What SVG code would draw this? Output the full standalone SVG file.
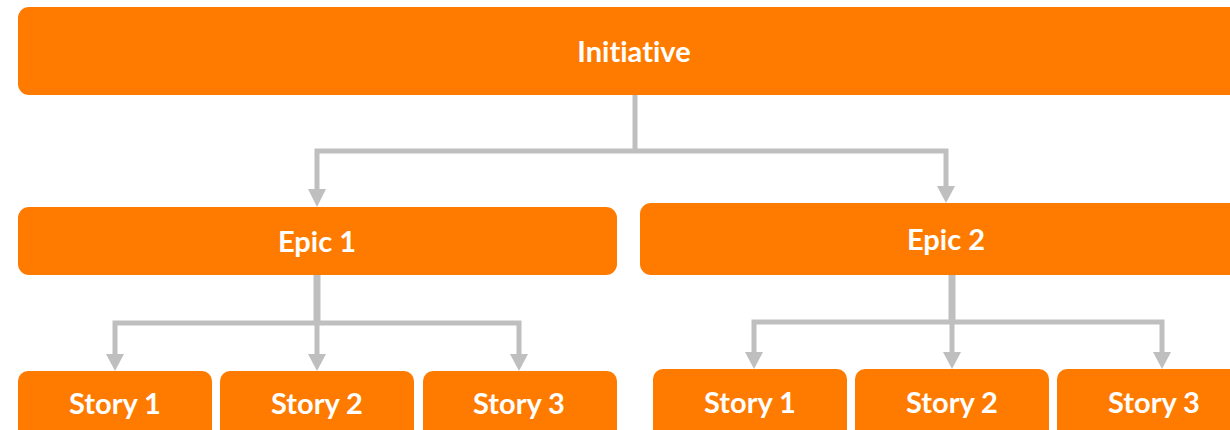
<svg xmlns="http://www.w3.org/2000/svg" width="1230" height="430" viewBox="0 0 1230 430">
<style>
.box{fill:#FF7B00}
.lbl{fill:#FFFFFF;font-family:Lato,"Open Sans","Liberation Sans",sans-serif;font-weight:700;font-size:29px;text-anchor:middle;font-variant-ligatures:none;font-feature-settings:"liga" 0,"dlig" 0}
.ln{stroke:#BFBFBF;stroke-width:5;fill:none}
.stem{stroke:#BFBFBF;stroke-width:7;fill:none}
.ah{fill:#BFBFBF}
</style>
<rect width="1230" height="430" fill="#FFFFFF"/>
<g id="connectors">
<line class="ln" x1="635" y1="95" x2="635" y2="151"/>
<polyline class="ln" points="317,190 317,151 946,151 946,190"/>
<polygon class="ah" points="308,189 326,189 317,207"/>
<polygon class="ah" points="937,186 955,186 946,203"/>
<line class="stem" x1="317" y1="275" x2="317" y2="323"/>
<polyline class="ln" points="115,355 115,323 519,323 519,355"/>
<line class="ln" x1="317" y1="323" x2="317" y2="355"/>
<polygon class="ah" points="106,354 124,354 115,371"/>
<polygon class="ah" points="308,354 326,354 317,371"/>
<polygon class="ah" points="510,354 528,354 519,371"/>
<line class="stem" x1="952" y1="275" x2="952" y2="322"/>
<polyline class="ln" points="754,353 754,322 1162,322 1162,353"/>
<line class="ln" x1="952" y1="322" x2="952" y2="353"/>
<polygon class="ah" points="745,352 763,352 754,369"/>
<polygon class="ah" points="943,352 961,352 952,369"/>
<polygon class="ah" points="1153,352 1171,352 1162,369"/>
</g>
<g id="initiative"><rect class="box" x="18" y="7" width="1232" height="88" rx="11"/><text class="lbl" x="634" y="62">Initiative</text></g>
<g id="epic1"><rect class="box" x="18" y="207" width="599" height="68" rx="11"/><text class="lbl" x="317" y="252">Epic 1</text></g>
<g id="epic2"><rect class="box" x="640" y="203" width="610" height="72" rx="11"/><text class="lbl" x="946" y="250">Epic 2</text></g>
<g id="e1s1"><rect class="box" x="18" y="371" width="194" height="70" rx="10"/><text class="lbl" x="115" y="414">Story 1</text></g>
<g id="e1s2"><rect class="box" x="220" y="371" width="194" height="70" rx="10"/><text class="lbl" x="317" y="414">Story 2</text></g>
<g id="e1s3"><rect class="box" x="423" y="371" width="194" height="70" rx="10"/><text class="lbl" x="519" y="414">Story 3</text></g>
<g id="e2s1"><rect class="box" x="653" y="369" width="194" height="72" rx="10"/><text class="lbl" x="750" y="413">Story 1</text></g>
<g id="e2s2"><rect class="box" x="855" y="369" width="194" height="72" rx="10"/><text class="lbl" x="952" y="413">Story 2</text></g>
<g id="e2s3"><rect class="box" x="1057" y="369" width="194" height="72" rx="10"/><text class="lbl" x="1154" y="413">Story 3</text></g>
</svg>
